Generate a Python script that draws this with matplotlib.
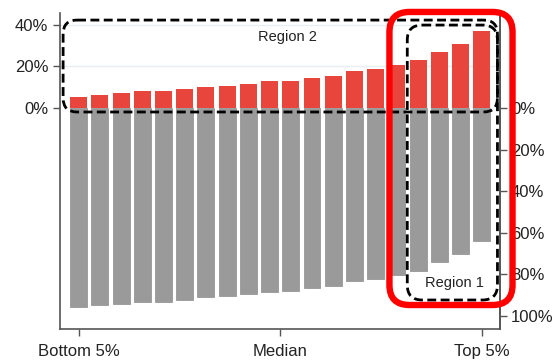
import matplotlib
matplotlib.use("Agg")
import matplotlib.pyplot as plt
from matplotlib.patches import FancyBboxPatch
import numpy as np

plt.rcParams['font.family'] = ['Liberation Sans', 'DejaVu Sans']

# Data (percent)
gains = [5.4, 6.1, 7.1, 8.2, 8.2, 9.0, 10.3, 10.6, 11.5, 12.8,
         13.0, 14.4, 15.2, 17.8, 18.9, 20.5, 22.9, 26.9, 30.9, 37.2]
losses = [95.5, 94.9, 94.1, 93.1, 93.1, 92.3, 90.9, 90.2, 89.6, 88.3,
          88.0, 86.7, 85.7, 83.2, 82.2, 80.3, 78.2, 74.2, 70.2, 63.9]
x_tick_pos = [1, 10.5, 20]
x_tick_labels = ["Bottom 5%", "Median", "Top 5%"]
left_ticks = [0, 20, 40]
right_ticks = [0, 20, 40, 60, 80, 100]

W, H = 560, 363
fig = plt.figure(figsize=(W / 100, H / 100), dpi=100)
ax = fig.add_axes([59.5 / W, 1 - 328.5 / H, (500 - 59.5) / W, (328.5 - 13) / H])

x = np.arange(1, len(gains) + 1)
ax.bar(x, gains, width=0.8, color="#e8463d", zorder=2)
ax.bar(x, [-v for v in losses], width=0.8, color="#9a9a9a",
       edgecolor="#8c8c8c", linewidth=0.5, zorder=2)

ax.set_xlim(0.1, 20.86)
ax.set_ylim(-106, 45.7)

for g in [20, 40]:
    ax.axhline(g, color="#e9eff0", lw=1, zorder=1)

ax.spines['top'].set_visible(False)
for s in ['left', 'right', 'bottom']:
    ax.spines[s].set_color("#555555")
    ax.spines[s].set_linewidth(1.2)

ax.set_xticks(x_tick_pos)
ax.set_xticklabels(x_tick_labels)
ax.set_yticks(left_ticks)
ax.set_yticklabels([f"{t}%" for t in left_ticks])
ax.tick_params(axis='both', direction='out', length=5, width=1,
               color="#555555", labelsize=12, labelcolor="#222222", pad=3)
ax.tick_params(axis='x', pad=6)

ax2 = ax.twinx()
ax2.set_ylim(ax.get_ylim())
ax2.set_yticks([-t for t in right_ticks])
ax2.set_yticklabels([f"{t}%" for t in right_ticks])
ax2.tick_params(axis='y', direction='out', length=5, width=1,
                color="#555555", labelsize=12, labelcolor="#222222", pad=3)
for s in ['top', 'left', 'bottom']:
    ax2.spines[s].set_visible(False)
ax2.spines['right'].set_color("#555555")
ax2.spines['right'].set_linewidth(1.2)

# overlay for annotation boxes (pixel coordinates)
ov = fig.add_axes([0, 0, 1, 1])
ov.set_xlim(0, W)
ov.set_ylim(H, 0)
ov.axis('off')
ov.patch.set_visible(False)


def to_px(xd, yd):
    px, py = ax.transData.transform((xd, yd))
    return px, H - py


def rbox(x0, y0, x1, y1, r, **kw):
    (ax0, ay0) = to_px(x0, y1)
    (ax1, ay1) = to_px(x1, y0)
    p = FancyBboxPatch((ax0 + r, ay0 + r), (ax1 - ax0) - 2 * r, (ay1 - ay0) - 2 * r,
                       boxstyle=f"round,pad={r},rounding_size={r}",
                       fill=False, clip_on=False, **kw)
    ov.add_patch(p)


dash = (0, (3.2, 1.6))
# Region 2
rbox(0.27, -1.9, 20.74, 42.3, 14, edgecolor="black", lw=2, linestyle=dash, zorder=5)
# Region 1
rbox(16.49, -92.3, 20.74, 39.9, 15, edgecolor="black", lw=2, linestyle=dash, zorder=5)
# Red highlight
rbox(15.65, -94.7, 21.45, 46.2, 20, edgecolor="#ff0000", lw=4.6, zorder=6)

tx, ty = to_px(10.83, 34.1)
ov.text(tx, ty, "Region 2", ha="center", va="center", fontsize=10.5, color="#222222")
tx, ty = to_px(18.7, -84)
ov.text(tx, ty, "Region 1", ha="center", va="center", fontsize=10.5, color="#222222")

fig.savefig("out.png", dpi=100)
